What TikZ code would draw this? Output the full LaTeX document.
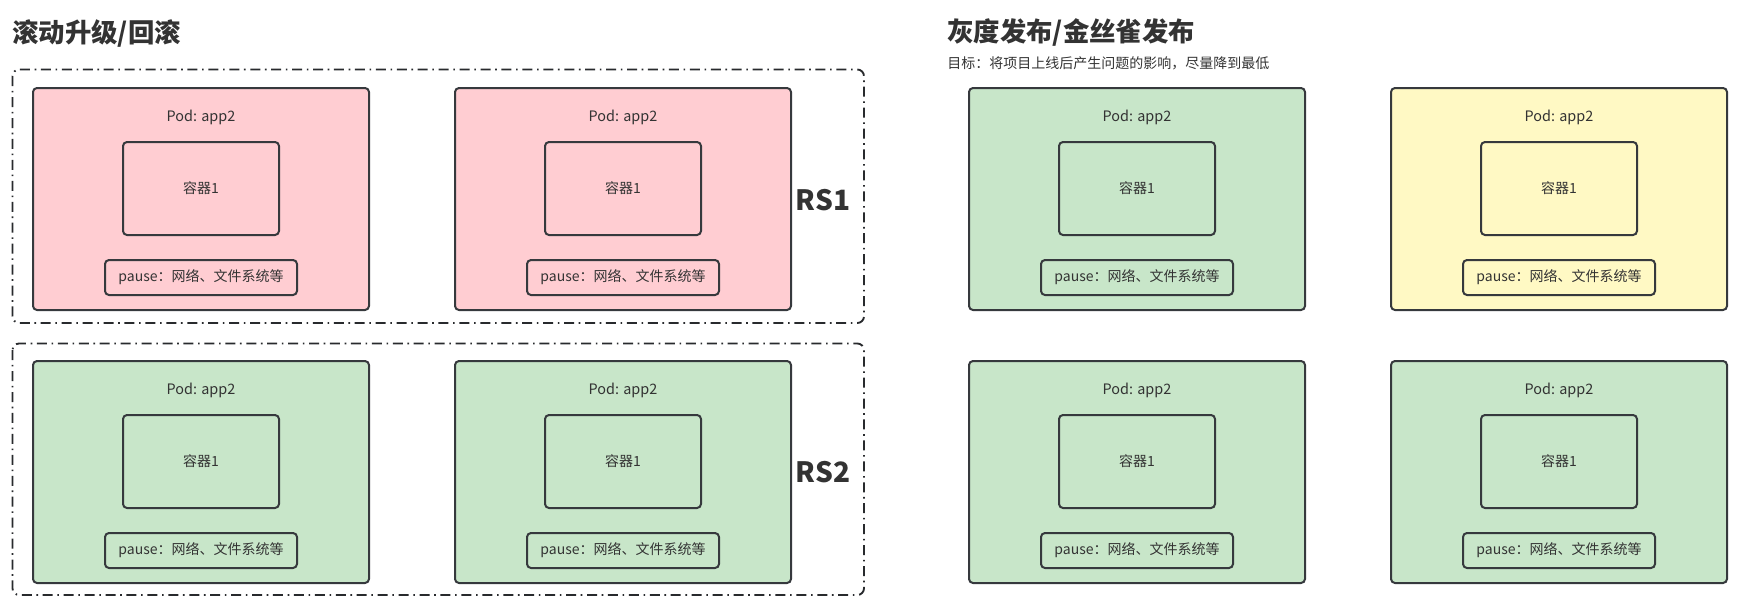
\documentclass[tikz,border=0pt]{standalone}
\usepackage{fontspec}
\setmainfont{Noto Sans CJK SC}
\usepackage{tikz}

\begin{document}
\begin{tikzpicture}[x=0.75pt,y=0.75pt,yscale=-1,xscale=1,
  every node/.style={text={rgb, 255:red, 51; green, 51; blue, 51 }},
  podbox/.style={draw={rgb, 255:red, 54; green, 57; blue, 61 },line width=1.5pt,rounded corners=3pt,minimum width=252pt,minimum height=166.5pt,inner sep=0pt},
  podred/.style={podbox,fill={rgb, 255:red, 255; green, 205; blue, 210 }},
  podgreen/.style={podbox,fill={rgb, 255:red, 200; green, 230; blue, 201 }},
  podyellow/.style={podbox,fill={rgb, 255:red, 255; green, 249; blue, 196 }},
  ctrbox/.style={draw={rgb, 255:red, 54; green, 57; blue, 61 },line width=1.5pt,rounded corners=3pt,minimum width=117pt,minimum height=69.75pt,inner sep=0pt,font=\fontsize{10.5pt}{12pt}\selectfont},
  pausebox/.style={draw={rgb, 255:red, 54; green, 57; blue, 61 },line width=1.5pt,rounded corners=3pt,minimum width=144pt,minimum height=26.25pt,inner sep=0pt,font=\fontsize{10.5pt}{12pt}\selectfont},
  podlabel/.style={inner sep=0pt,font=\fontsize{10.8pt}{12pt}\selectfont},
  rsbox/.style={draw={rgb, 255:red, 40; green, 42; blue, 45 },line width=1.4pt,rounded corners=5pt,dash pattern=on 7.5pt off 3.5pt on 1.2pt off 3.5pt},
  rslabel/.style={inner sep=0pt,font=\fontsize{21pt}{24pt}\selectfont\bfseries},
  titletext/.style={anchor=west,inner sep=0pt,font=\fontsize{19.8pt}{22pt}\selectfont\bfseries}
]
\useasboundingbox (0,0) rectangle (1744,600);

% Text Node
\node [titletext] (title1) at (12,33) {滚动升级/回滚};
% Text Node
\node [titletext] (title2) at (947,32) {灰度发布/金丝雀发布};
% Text Node
\node [anchor=west,inner sep=0pt,font=\fontsize{10.5pt}{12pt}\selectfont] (goal) at (947,63) {目标：将项目上线后产生问题的影响，尽量降到最低};

%Shape: Rectangle [RS1]
\draw [rsbox] (12.5,69.5) rectangle (864,323);
%Shape: Rectangle [RS2]
\draw [rsbox] (12.5,343.5) rectangle (864,595);
% Text Node
\node [rslabel] (rs1) at (823,200) {RS1};
% Text Node
\node [rslabel] (rs2) at (823,472) {RS2};

%Shape: Pod [pod1]
\node [podred] (pod1) at (201,199) {};
\node [podlabel] (lbl1) at (201,117) {Pod: app2};
\node [ctrbox] (ctr1) at (201,188.5) {容器1};
\node [pausebox] (pause1) at (201,277.5) {pause：网络、文件系统等};

%Shape: Pod [pod2]
\node [podred] (pod2) at (623,199) {};
\node [podlabel] (lbl2) at (623,117) {Pod: app2};
\node [ctrbox] (ctr2) at (623,188.5) {容器1};
\node [pausebox] (pause2) at (623,277.5) {pause：网络、文件系统等};

%Shape: Pod [pod3]
\node [podgreen] (pod3) at (201,472) {};
\node [podlabel] (lbl3) at (201,390) {Pod: app2};
\node [ctrbox] (ctr3) at (201,461.5) {容器1};
\node [pausebox] (pause3) at (201,550.5) {pause：网络、文件系统等};

%Shape: Pod [pod4]
\node [podgreen] (pod4) at (623,472) {};
\node [podlabel] (lbl4) at (623,390) {Pod: app2};
\node [ctrbox] (ctr4) at (623,461.5) {容器1};
\node [pausebox] (pause4) at (623,550.5) {pause：网络、文件系统等};

%Shape: Pod [pod5]
\node [podgreen] (pod5) at (1137,199) {};
\node [podlabel] (lbl5) at (1137,117) {Pod: app2};
\node [ctrbox] (ctr5) at (1137,188.5) {容器1};
\node [pausebox] (pause5) at (1137,277.5) {pause：网络、文件系统等};

%Shape: Pod [pod6]
\node [podyellow] (pod6) at (1559,199) {};
\node [podlabel] (lbl6) at (1559,117) {Pod: app2};
\node [ctrbox] (ctr6) at (1559,188.5) {容器1};
\node [pausebox] (pause6) at (1559,277.5) {pause：网络、文件系统等};

%Shape: Pod [pod7]
\node [podgreen] (pod7) at (1137,472) {};
\node [podlabel] (lbl7) at (1137,390) {Pod: app2};
\node [ctrbox] (ctr7) at (1137,461.5) {容器1};
\node [pausebox] (pause7) at (1137,550.5) {pause：网络、文件系统等};

%Shape: Pod [pod8]
\node [podgreen] (pod8) at (1559,472) {};
\node [podlabel] (lbl8) at (1559,390) {Pod: app2};
\node [ctrbox] (ctr8) at (1559,461.5) {容器1};
\node [pausebox] (pause8) at (1559,550.5) {pause：网络、文件系统等};

\end{tikzpicture}
\end{document}
